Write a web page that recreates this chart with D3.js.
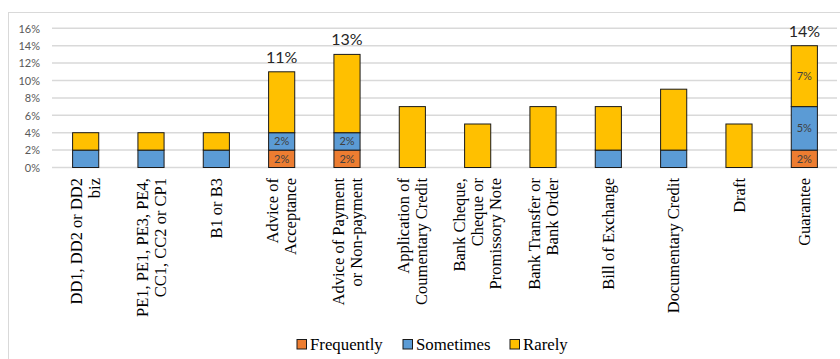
<!DOCTYPE html>
<html>
<head>
<meta charset="utf-8">
<script src="https://cdn.jsdelivr.net/npm/d3@7"></script>
<style>
  html, body { margin: 0; padding: 0; background: #fff; }
  svg { display: block; }
  .serif { font-family: "Liberation Serif", "DejaVu Serif", "Times New Roman", serif; }
  .sans { font-family: Lato, "Open Sans", "Liberation Sans", sans-serif; }
</style>
</head>
<body>
<svg id="chart" width="840" height="359"></svg>
<script>
// Categories (x-axis labels, one entry per line of the label)
const categories = [
  ["DD1, DD2 or DD2", "biz"],
  ["PE1, PE1, PE3, PE4,", "CC1, CC2 or CP1"],
  ["B1 or B3"],
  ["Advice of", "Acceptance"],
  ["Advice of Payment", "or Non-payment"],
  ["Application of", "Coumentary Credit"],
  ["Bank Cheque,", "Cheque or", "Promissory Note"],
  ["Bank Transfer or", "Bank Order"],
  ["Bill of Exchange"],
  ["Documentary Credit"],
  ["Draft"],
  ["Guarantee"]
];

// Stacked series values (percent)
const frequently = [0, 0, 0, 2, 2, 0, 0, 0, 0, 0, 0, 2];
const sometimes  = [2, 2, 2, 2, 2, 0, 0, 0, 2, 2, 0, 5];
const rarely     = [2, 2, 2, 7, 9, 7, 5, 7, 5, 7, 5, 7];

const seriesNames = ["Frequently", "Sometimes", "Rarely"];
const seriesColors = ["#ED7D31", "#5B9BD5", "#FFC000"];

const yTicks = [0, 2, 4, 6, 8, 10, 12, 14, 16];

// Which categories get in-bar value labels, per series
const segmentLabelled = {
  Frequently: [3, 4, 11],
  Sometimes: [3, 4, 11],
  Rarely: [11]
};
// Categories whose totals are printed above the bars
const labelledTotals = [3, 4, 11];

const svg = d3.select("#chart");

// Chart frame
svg.append("rect")
  .attr("x", 8.5).attr("y", 12.5)
  .attr("width", 840).attr("height", 360)
  .attr("fill", "none").attr("stroke", "#d9d9d9").attr("stroke-width", 1);

const x = d3.scaleBand()
  .domain(d3.range(categories.length))
  .range([53, 837])
  .paddingInner(0.6)
  .paddingOuter(0.3);

const y = d3.scaleLinear().domain([0, 16]).range([167.5, 28.3]);

// Gridlines
svg.append("g").selectAll("line")
  .data(yTicks)
  .join("line")
  .attr("x1", 52).attr("x2", 837)
  .attr("y1", d => y(d)).attr("y2", d => y(d))
  .attr("stroke", "#d9d9d9").attr("stroke-width", 1.5);

// Y axis labels
const yAxis = d3.axisLeft(y).tickValues(yTicks).tickFormat(d => d + "%").tickSize(0).tickPadding(0);
const yg = svg.append("g").attr("transform", "translate(40,0)").call(yAxis);
yg.select(".domain").remove();
yg.attr("font-family", null).attr("font-size", null);
yg.selectAll("text")
  .attr("class", "sans")
  .attr("fill", "#595959")
  .style("font-size", "11px")
  .attr("dy", "0.35em");

// Stack data
const rows = categories.map((c, i) => ({
  idx: i,
  Frequently: frequently[i],
  Sometimes: sometimes[i],
  Rarely: rarely[i]
}));
const stacked = d3.stack().keys(seriesNames)(rows);

const layers = svg.append("g").selectAll("g")
  .data(stacked)
  .join("g")
  .attr("fill", (d, i) => seriesColors[i]);

layers.selectAll("rect")
  .data(d => d.filter(s => s[1] - s[0] > 0))
  .join("rect")
  .attr("x", d => x(d.data.idx))
  .attr("width", x.bandwidth())
  .attr("y", d => y(d[1]))
  .attr("height", d => y(d[0]) - y(d[1]))
  .attr("stroke", "#1a1a1a")
  .attr("stroke-width", 1);

// Segment value labels
layers.selectAll("text")
  .data(d => d.filter(s => s[1] - s[0] > 0 && segmentLabelled[d.key].includes(s.data.idx)))
  .join("text")
  .attr("class", "sans")
  .attr("x", d => x(d.data.idx) + x.bandwidth() / 2)
  .attr("y", d => (y(d[0]) + y(d[1])) / 2)
  .attr("dy", "0.36em")
  .attr("text-anchor", "middle")
  .attr("fill", "#404040")
  .style("font-size", "11px")
  .text(d => (d[1] - d[0]) + "%");

// Total labels
svg.append("g").selectAll("text")
  .data(labelledTotals)
  .join("text")
  .attr("class", "sans")
  .attr("x", i => x(i) + x.bandwidth() / 2)
  .attr("y", i => y(frequently[i] + sometimes[i] + rarely[i]) - 9)
  .attr("text-anchor", "middle")
  .attr("fill", "#262626")
  .style("font-size", "16px")
  .text(i => (frequently[i] + sometimes[i] + rarely[i]) + "%");

// Rotated category labels
const lineGap = 18;
const xl = svg.append("g").selectAll("text")
  .data(categories)
  .join("text")
  .attr("class", "serif")
  .attr("transform", (d, i) => `translate(${x(i) + x.bandwidth() / 2},178) rotate(-90)`)
  .attr("text-anchor", "end")
  .attr("fill", "#000")
  .style("font-size", "16.5px");
xl.selectAll("tspan")
  .data(d => d.map((t, k) => ({ t, k, n: d.length })))
  .join("tspan")
  .attr("x", 0)
  .attr("y", d => (d.k - (d.n - 1) / 2) * lineGap)
  .attr("dy", "0.35em")
  .text(d => d.t);

// Legend
const legendX = [297, 403, 510];
const legend = svg.append("g").selectAll("g")
  .data(seriesNames)
  .join("g")
  .attr("transform", (d, i) => `translate(${legendX[i]},339.5)`);
legend.append("rect")
  .attr("width", 9.5).attr("height", 9.5)
  .attr("fill", (d, i) => seriesColors[i])
  .attr("stroke", "#1a1a1a").attr("stroke-width", 1);
legend.append("text")
  .attr("class", "serif")
  .attr("x", 13).attr("y", 10.5)
  .attr("fill", "#000")
  .style("font-size", "16.8px")
  .text(d => d);
</script>
</body>
</html>
